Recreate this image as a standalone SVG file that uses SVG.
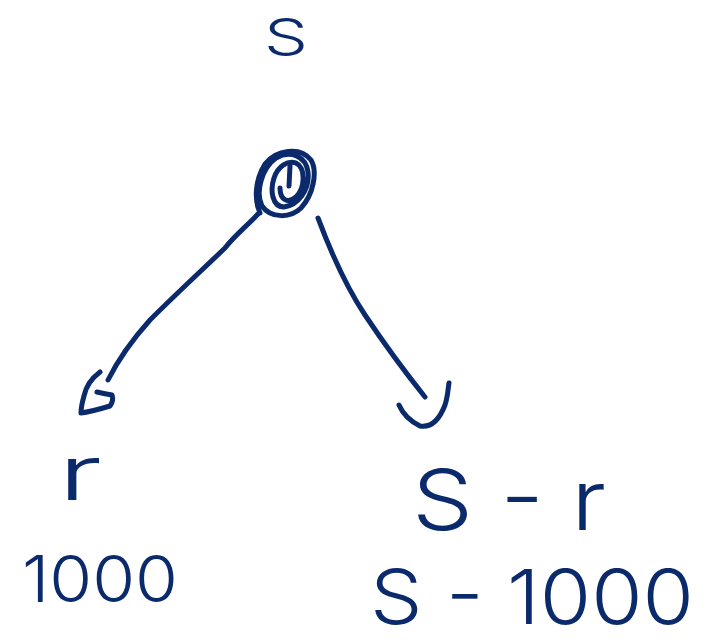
<svg xmlns="http://www.w3.org/2000/svg" width="706" height="643" viewBox="0 0 706 643">
<style>
.ink{fill:none;stroke:#0b2a6b;stroke-width:5;stroke-linecap:round;stroke-linejoin:round}
.t{font-family:Inter,"Liberation Sans","DejaVu Sans",sans-serif;font-weight:300;fill:#0b2a6b}
</style>
<rect width="706" height="643" fill="#fff"/>
<g id="label-top">
<text class="t" x="286" y="55" font-size="50" text-anchor="middle" textLength="44" lengthAdjust="spacingAndGlyphs">S</text>
</g>
<g id="node-root">
<path class="ink" d="M260,213 C254,200 255,180 265,164 C276,150 300,146 311,160 C318,172 313,195 301,208 C291,218 271,219 262,206 C255,192 262,168 276,158 C290,150 306,156 308,172 C310,190 298,205 284,207 C272,207 270,190 274,178 C278,166 288,160 296,163 C306,168 305,188 296,197 C288,204 280,200 280,188"/>
<path class="ink" d="M290,166 L289,186"/>
</g>
<g id="connectors">
<path class="ink" d="M258,214 C248,225 235,235 225,248 C200,272 175,295 150,320 C132,340 118,360 108,380"/>
<path class="ink" d="M100,372 C92,378 86,386 84,396 C82,403 81,408 81,413 C90,412 100,409 110,406 C113,402 113,398 112,395 C106,394 101,393 97,392"/>
<path class="ink" d="M318,218 C330,250 345,285 365,315 C385,345 405,372 425,397"/>
<path class="ink" d="M399,405 C402,412 408,420 420,426 C432,428 440,418 445,405 C448,396 448,388 449,383"/>
</g>
<g id="leaf-left">
<text class="t" x="80" y="500" font-size="76" text-anchor="middle" textLength="44" lengthAdjust="spacingAndGlyphs">r</text>
<text class="t" x="22" y="602" font-size="64" textLength="156" lengthAdjust="spacingAndGlyphs">1000</text>
</g>
<g id="leaf-right">
<text class="t" x="412" y="530" font-size="84" textLength="194" lengthAdjust="spacingAndGlyphs">S - r</text>
<text class="t" x="370" y="624" font-size="76" textLength="324" lengthAdjust="spacingAndGlyphs">S - 1000</text>
</g>
</svg>
